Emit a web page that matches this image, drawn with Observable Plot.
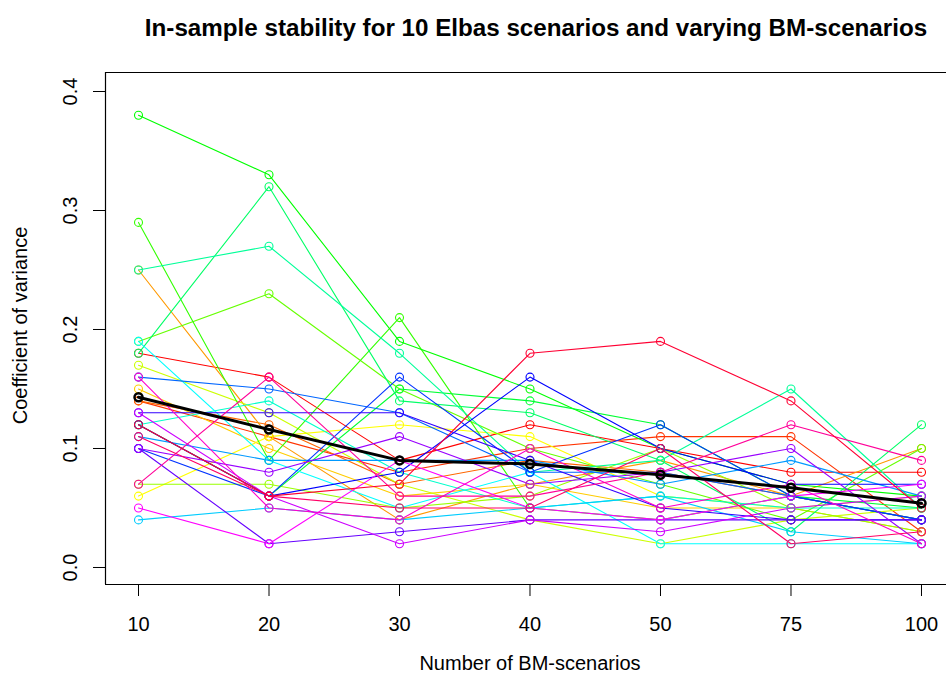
<!DOCTYPE html>
<html><head><meta charset="utf-8">
<script src="https://cdn.jsdelivr.net/npm/d3@7"></script>
<script src="https://cdn.jsdelivr.net/npm/@observablehq/plot@0.6"></script>
<style>html,body{margin:0;padding:0;overflow:hidden;background:#fff}</style>
</head><body><div id="chart"></div>
<script>
// Categories (number of BM-scenarios), equally spaced on the x axis
const xLabels = ["10", "20", "30", "40", "50", "75", "100"];
const yTicks = [0.0, 0.1, 0.2, 0.3, 0.4];
const titleText = "In-sample stability for 10 Elbas scenarios and varying BM-scenarios";
const xTitle = "Number of BM-scenarios";
const yTitle = "Coefficient of variance";

// Coefficient of variance per run (30 runs), one value per category
const runs = [
  [0.18, 0.16, 0.09, 0.12, 0.10, 0.08, 0.08],
  [0.14, 0.11, 0.08, 0.10, 0.11, 0.11, 0.03],
  [0.14, 0.12, 0.07, 0.09, 0.08, 0.06, 0.04],
  [0.25, 0.11, 0.04, 0.07, 0.09, 0.06, 0.10],
  [0.15, 0.10, 0.06, 0.07, 0.05, 0.05, 0.03],
  [0.06, 0.11, 0.12, 0.11, 0.06, 0.05, 0.06],
  [0.17, 0.13, 0.07, 0.04, 0.02, 0.04, 0.05],
  [0.07, 0.07, 0.05, 0.06, 0.10, 0.05, 0.03],
  [0.19, 0.23, 0.15, 0.10, 0.07, 0.04, 0.10],
  [0.29, 0.09, 0.21, 0.05, 0.04, 0.06, 0.04],
  [0.38, 0.33, 0.19, 0.15, 0.10, 0.07, 0.06],
  [0.12, 0.06, 0.15, 0.14, 0.12, 0.06, 0.05],
  [0.18, 0.32, 0.14, 0.13, 0.09, 0.03, 0.12],
  [0.25, 0.27, 0.18, 0.08, 0.09, 0.15, 0.05],
  [0.12, 0.14, 0.08, 0.05, 0.06, 0.05, 0.05],
  [0.19, 0.09, 0.05, 0.08, 0.02, 0.02, 0.02],
  [0.04, 0.05, 0.04, 0.05, 0.06, 0.03, 0.02],
  [0.11, 0.09, 0.09, 0.09, 0.07, 0.09, 0.06],
  [0.16, 0.15, 0.13, 0.08, 0.08, 0.06, 0.04],
  [0.10, 0.06, 0.16, 0.08, 0.12, 0.06, 0.04],
  [0.12, 0.06, 0.08, 0.16, 0.10, 0.07, 0.07],
  [0.13, 0.13, 0.13, 0.09, 0.05, 0.04, 0.04],
  [0.10, 0.02, 0.03, 0.04, 0.04, 0.04, 0.04],
  [0.10, 0.08, 0.11, 0.07, 0.08, 0.10, 0.02],
  [0.13, 0.06, 0.02, 0.04, 0.03, 0.05, 0.06],
  [0.05, 0.02, 0.09, 0.05, 0.04, 0.06, 0.07],
  [0.16, 0.05, 0.04, 0.10, 0.05, 0.07, 0.02],
  [0.07, 0.16, 0.06, 0.06, 0.08, 0.12, 0.09],
  [0.11, 0.06, 0.05, 0.05, 0.10, 0.02, 0.03],
  [0.12, 0.06, 0.07, 0.18, 0.19, 0.14, 0.05]
];
// Mean over runs (thick black line)
const meanCV = [0.143, 0.116, 0.090, 0.087, 0.078, 0.067, 0.054];

// R rainbow(30) palette
const nRuns = runs.length;
const colors = d3.range(nRuns).map(i => d3.hsl(360 * i / nRuns, 1, 0.5).formatHex());

const rows = [];
runs.forEach((vals, r) => vals.forEach((v, k) => rows.push({run: r, k, v})));
const meanRows = meanCV.map((v, k) => ({k, v}));

const xDom = [-0.2529, 6.1916];
const yDom = [-0.01429, 0.41597];

const plot = Plot.plot({
  width: 946, height: 683,
  marginLeft: 105, marginRight: 0, marginTop: 72, marginBottom: 99,
  style: {fontFamily: "'Liberation Sans', Arial, sans-serif", fontSize: "20px", background: "white", color: "black", overflow: "visible"},
  x: {type: "linear", domain: xDom, axis: null},
  y: {domain: yDom, axis: null},
  color: {type: "ordinal", domain: d3.range(nRuns), range: colors},
  marks: [
    Plot.line(rows, {x: "k", y: "v", z: "run", stroke: "run", strokeWidth: 1.1}),
    Plot.dot(rows, {x: "k", y: "v", stroke: "run", r: 4, strokeWidth: 1.1, fill: "none"}),
    Plot.line(meanRows, {x: "k", y: "v", stroke: "black", strokeWidth: 3}),
    Plot.dot(meanRows, {x: "k", y: "v", stroke: "black", r: 4, strokeWidth: 2.5, fill: "none"}),
    Plot.ruleY([yDom[0], yDom[1]], {stroke: "black", strokeWidth: 1.2}),
    Plot.ruleX([xDom[0]], {stroke: "black", strokeWidth: 1.2}),
    Plot.axisX({ticks: d3.range(xLabels.length), tickFormat: i => xLabels[i], tickSize: 12, tickPadding: 20, fontSize: 20, label: null}),
    Plot.axisY({ticks: yTicks, tickSize: 12, tickFormat: () => "", label: null}),
    Plot.text(yTicks, {y: d => d, text: d => d.toFixed(1), frameAnchor: "left", textAnchor: "middle", lineAnchor: "middle", dx: -35, rotate: -90, fontSize: 20}),
    Plot.text([yTitle], {text: d => d, frameAnchor: "left", textAnchor: "middle", lineAnchor: "middle", dx: -85, dy: -3, rotate: -90, fontSize: 20}),
    Plot.text([xTitle], {text: d => d, frameAnchor: "bottom", dx: 4, dy: 85, fontSize: 20}),
    Plot.text([titleText], {text: d => d, frameAnchor: "top", dx: 10, dy: -54, fontSize: 24.2, fontWeight: "bold"})
  ]
});
document.getElementById("chart").appendChild(plot);
</script>
</body></html>
